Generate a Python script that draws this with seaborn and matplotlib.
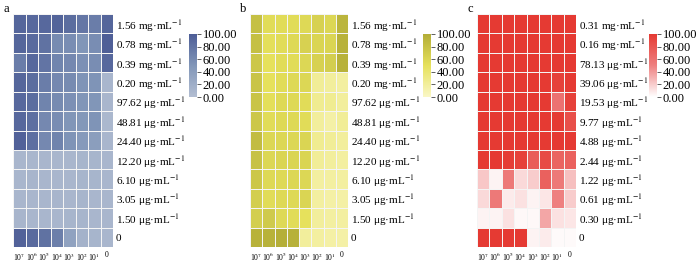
import matplotlib
matplotlib.use("Agg")
import matplotlib.pyplot as plt
import numpy as np
import pandas as pd
import seaborn as sns
from matplotlib.colors import LinearSegmentedColormap

# column labels (bacteria concentration) shared by all three panels
col_labels = ["10$^7$", "10$^6$", "10$^5$", "10$^4$", "10$^3$", "10$^2$", "10$^1$", "0"]

rows_a = ["1.56 mg·mL$^{-1}$", "0.78 mg·mL$^{-1}$", "0.39 mg·mL$^{-1}$", "0.20 mg·mL$^{-1}$",
          "97.62 μg·mL$^{-1}$", "48.81 μg·mL$^{-1}$", "24.40 μg·mL$^{-1}$", "12.20 μg·mL$^{-1}$",
          "6.10 μg·mL$^{-1}$", "3.05 μg·mL$^{-1}$", "1.50 μg·mL$^{-1}$", "0"]
rows_c = ["0.31 mg·mL$^{-1}$", "0.16 mg·mL$^{-1}$", "78.13 μg·mL$^{-1}$", "39.06 μg·mL$^{-1}$",
          "19.53 μg·mL$^{-1}$", "9.77 μg·mL$^{-1}$", "4.88 μg·mL$^{-1}$", "2.44 μg·mL$^{-1}$",
          "1.22 μg·mL$^{-1}$", "0.61 μg·mL$^{-1}$", "0.30 μg·mL$^{-1}$", "0"]

vals_a = [
    [92, 90, 90, 94, 86, 78, 72, 92],
    [92, 88, 82, 60, 58, 50, 58, 98],
    [72, 90, 80, 65, 62, 55, 58, 90],
    [92, 86, 72, 62, 60, 52, 52, 10],
    [90, 86, 66, 60, 55, 50, 50, 10],
    [90, 84, 62, 58, 50, 48, 52, 8],
    [96, 84, 62, 66, 52, 45, 40, 10],
    [10, 10, 10, 10, 10, 12, 12, 10],
    [10, 11, 10, 10, 10, 12, 12, 10],
    [10, 10, 10, 11, 10, 12, 10, 10],
    [11, 10, 10, 10, 12, 12, 10, 10],
    [95, 88, 82, 70, 35, 15, 12, 10],
]

vals_b = [
    [82, 55, 55, 55, 58, 65, 60, 92],
    [82, 52, 55, 58, 65, 62, 62, 95],
    [75, 50, 55, 55, 60, 65, 68, 95],
    [78, 50, 55, 58, 60, 22, 20, 18],
    [78, 52, 58, 58, 55, 25, 25, 20],
    [75, 55, 58, 58, 55, 20, 15, 22],
    [85, 60, 60, 60, 62, 25, 22, 20],
    [80, 60, 62, 62, 62, 22, 20, 18],
    [75, 58, 58, 60, 60, 18, 18, 18],
    [68, 55, 58, 58, 62, 18, 16, 16],
    [68, 72, 58, 55, 50, 20, 18, 18],
    [95, 95, 98, 96, 20, 18, 16, 15],
]

vals_c = [
    [100, 100, 100, 100, 100, 100, 100, 100],
    [100, 100, 100, 100, 100, 100, 100, 100],
    [100, 100, 100, 100, 100, 100, 100, 100],
    [100, 100, 100, 100, 100, 100, 95, 100],
    [100, 100, 100, 100, 100, 100, 60, 95],
    [100, 100, 100, 100, 100, 100, 100, 85],
    [100, 100, 100, 100, 100, 100, 100, 100],
    [100, 100, 98, 95, 75, 88, 70, 72],
    [22, 5, 55, 15, 20, 72, 55, 25],
    [15, 55, 8, 12, 5, 10, 50, 20],
    [5, 5, 12, 3, 3, 35, 12, 10],
    [100, 100, 100, 100, 5, 8, 2, 2],
]

cmap_a = LinearSegmentedColormap.from_list("a", ["#B3BED2", "#8196B8", "#4D5D96"])
cmap_b = LinearSegmentedColormap.from_list("b", ["#FAF7C6", "#E6E15C", "#B3AD37"])
cmap_c = LinearSegmentedColormap.from_list("c", ["#FFFFFF", "#EE8080", "#E53A33"])

plt.rcParams["font.family"] = ["Liberation Serif", "DejaVu Serif"]
plt.rcParams["mathtext.fontset"] = "stix"

W, H = 700, 264
fig = plt.figure(figsize=(W / 100, H / 100), dpi=100)


def px(x0, y0, x1, y1):
    return [x0 / W, 1 - y1 / H, (x1 - x0) / W, (y1 - y0) / H]


panels = [
    ("a", vals_a, rows_a, cmap_a, px(13, 14, 113, 247), px(189, 34, 197, 97), (3, 9)),
    ("b", vals_b, rows_a, cmap_b, px(250, 14, 348, 247), px(423, 34, 431, 97), (240, 9)),
    ("c", vals_c, rows_c, cmap_c, px(477, 14, 576, 247), px(649, 34, 657, 97), (468, 9)),
]

for letter, vals, rows, cmap, hm_pos, cb_pos, lab_pos in panels:
    ax = fig.add_axes(hm_pos)
    cax = fig.add_axes(cb_pos)
    df = pd.DataFrame(vals, index=rows, columns=col_labels)
    sns.heatmap(df, ax=ax, cbar_ax=cax, cmap=cmap, vmin=0, vmax=100,
                linewidths=0.6, linecolor="#F4F4F4",
                xticklabels=True, yticklabels=True,
                cbar_kws={"ticks": [0, 20, 40, 60, 80, 100], "format": "%.2f"})
    ax.yaxis.tick_right()
    ax.set_yticklabels(rows, rotation=0, fontsize=8)
    ax.set_xticklabels(col_labels, rotation=0, fontsize=5.5)
    ax.tick_params(length=0, pad=2)
    ax.tick_params(axis="x", pad=3)
    ax.set_xlabel("")
    ax.set_ylabel("")
    cax.tick_params(labelsize=9, length=3, width=0.6, color="#444444", pad=1)
    ax.collections[0].colorbar.outline.set_visible(False)
    cax.axvline(cax.get_xlim()[1], color="#444444", lw=0.6)
    fig.text(lab_pos[0] / W, 1 - lab_pos[1] / H, letter, fontsize=9, va="center", ha="left")

fig.savefig("out.png", dpi=100)
